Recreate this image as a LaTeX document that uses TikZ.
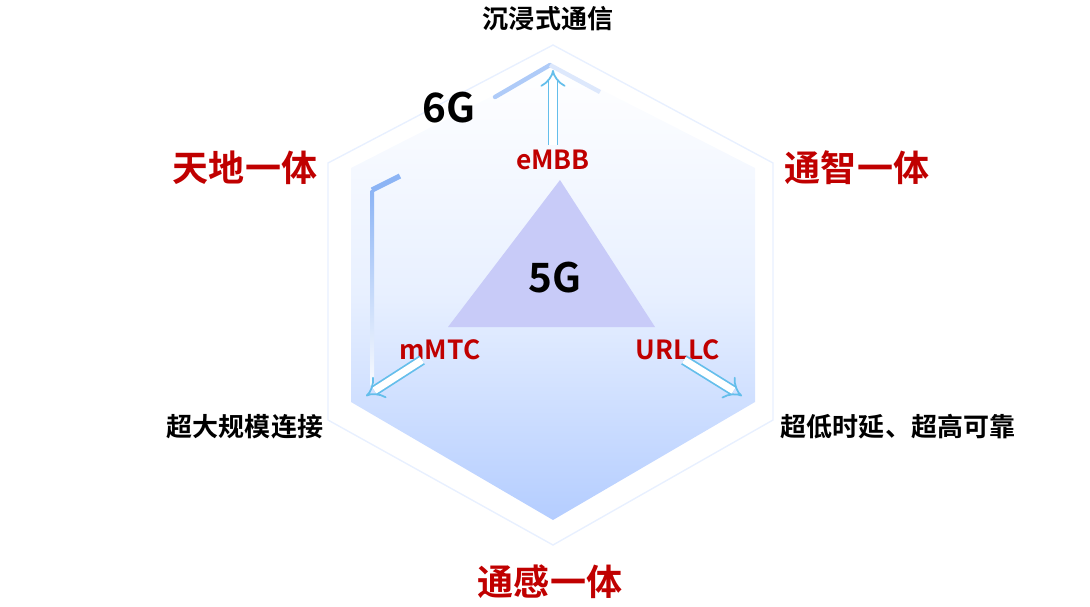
\documentclass[tikz,border=0pt]{standalone}
\usepackage{fontspec}
\setmainfont{Noto Sans CJK SC}[BoldFont={Noto Sans CJK SC Bold}]
\usetikzlibrary{arrows.meta}
\definecolor{dred}{RGB}{192,0,0}
\definecolor{abl}{RGB}{100,190,235}
\definecolor{hb}{RGB}{180,205,255}
\definecolor{hbl}{RGB}{232,240,255}
\definecolor{tri}{RGB}{200,203,248}
\definecolor{lb}{RGB}{140,180,245}
\begin{document}
\begin{tikzpicture}[x=0.02cm,y=-0.02cm,
  big/.style={font=\bfseries\fontsize{20.5}{22}\selectfont, text=dred},
  side/.style={font=\bfseries\fontsize{14.8}{16}\selectfont},
  lab/.style={font=\bfseries\fontsize{15}{17}\selectfont, text=dred},
  dbl/.style={double=white, draw=abl, double distance=4pt, line width=1pt, -{Implies[]}}]
\useasboundingbox (0,0) rectangle (1090,606);
\draw[hbl, line width=0.8pt] (553,45) -- (773,163) -- (773,420) -- (553,545) -- (328,420) -- (328,163) -- cycle;
\shade[top color=white, bottom color=hb, middle color=hbl, shading angle=0]
  (553,65) -- (755,168) -- (755,402) -- (553,520) -- (351,402) -- (351,168) -- cycle;
\draw[draw=lb!70, line width=2.5pt, line cap=round] (495,97) -- (550,65);
\draw[draw=lb!30, line width=2.5pt] (550,65) -- (600,92);
\draw[lb, line width=3pt] (400,176) -- (372,190);
\shade[top color=lb, bottom color=lb!5] (370.5,190) rectangle (374,385);
\fill[tri] (560,180) -- (655,327) -- (448,327) -- cycle;
\node (g5) at (555,278) {\bfseries\fontsize{23}{25}\selectfont 5G};
\node (g6) at (449,108) {\bfseries\fontsize{23}{25}\selectfont 6G};
\node[lab] (embb) at (553,160) {eMBB};
\node[lab] (mmtc) at (440,350) {mMTC};
\node[lab] (urllc) at (678,350) {URLLC};
\coordinate (t1) at (553,145); \coordinate (t2) at (553,70);
\coordinate (l1) at (422,360); \coordinate (l2) at (366,396);
\coordinate (r1) at (684,360); \coordinate (r2) at (742,396);
\draw[dbl] (t1) -- (t2);
\draw[dbl] (l1) -- (l2);
\draw[dbl] (r1) -- (r2);
\node[side] (a) at (548,19) {沉浸式通信};
\node[side] (b) at (245,427) {超大规模连接};
\node[side] (c) at (898,427) {超低时延、超高可靠};
\node[big] (d) at (245,168) {天地一体};
\node[big] (e) at (857,168) {通智一体};
\node[big] (f) at (550,582) {通感一体};
\end{tikzpicture}
\end{document}
